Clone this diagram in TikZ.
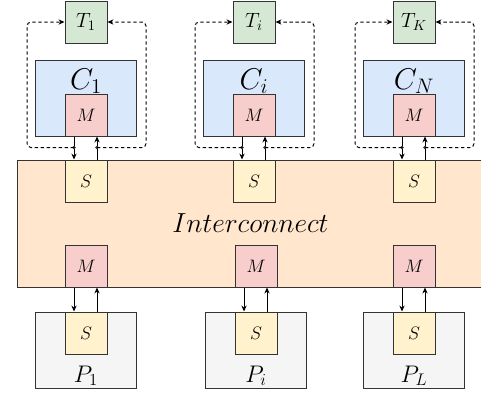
\documentclass[tikz,border=0pt]{standalone}
\usepackage{fix-cm}
\usetikzlibrary{arrows.meta}
\definecolor{taskFill}{HTML}{D5E8D4}
\definecolor{coreFill}{HTML}{DAE8FC}
\definecolor{masterFill}{HTML}{F8CECC}
\definecolor{slaveFill}{HTML}{FFF2CC}
\definecolor{busFill}{HTML}{FFE6CC}
\definecolor{perFill}{HTML}{F5F5F5}
\definecolor{edge}{HTML}{333333}
\newlength\portSize
\setlength\portSize{31.5pt}
\newlength\hostWidth
\setlength\hostWidth{75.75pt}
\newlength\hostHeight
\setlength\hostHeight{57pt}
\tikzset{
  unit/.style={draw=edge, line width=0.75pt, inner sep=0pt},
  taskbox/.style={unit, fill=taskFill, minimum size=\portSize, font=\fontsize{15.5}{18}\selectfont},
  masterbox/.style={unit, fill=masterFill, minimum size=\portSize, font=\fontsize{13.5}{16}\selectfont},
  slavebox/.style={unit, fill=slaveFill, minimum size=\portSize, font=\fontsize{13.5}{16}\selectfont},
  corebox/.style={unit, fill=coreFill, minimum width=\hostWidth, minimum height=\hostHeight},
  perbox/.style={unit, fill=perFill, minimum width=\hostWidth, minimum height=\hostHeight},
  busbox/.style={unit, fill=busFill, minimum width=350.25pt, minimum height=95.25pt, font=\fontsize{20.7}{24}\selectfont},
  hostlabel/.style={anchor=base, inner sep=0pt},
  wire/.style={line width=0.75pt, -{Stealth[length=4.5pt,width=4pt]}},
  probe/.style={line width=0.75pt, dash pattern=on 2.5pt off 2pt, rounded corners=3pt, -{Stealth[length=4.5pt,width=4pt]}},
}

\begin{document}
\begin{tikzpicture}[x=0.75pt,y=-0.75pt]
    \useasboundingbox (0,0) rectangle (481,394);

    \node[busbox] (ic) at (250.5,223.5) {$Interconnect$};

    \foreach \c/\x/\xb/\task/\core/\per in {1/86/86/T_1/C_1/P_1,2/254/256/T_i/C_i/P_i,3/414/414/T_K/C_N/P_L} {
      \node[taskbox] (t\c) at (\x,22) {$\task$};
      \node[corebox] (c\c) at (\x,98) {};
      \node[hostlabel, font=\fontsize{22.5}{26}\selectfont] (cl\c) at (\x,89) {$\core$};
      \node[masterbox, anchor=south] (cm\c) at (c\c.south) {$M$};

      \node[slavebox] (s\c) at (\x,181) {$S$};
      \node[masterbox] (m\c) at (\xb,266) {$M$};

      \node[perbox] (p\c) at (\xb,350) {};
      \node[slavebox] (ps\c) at (\xb,333) {$S$};
      \node[hostlabel, font=\fontsize{18}{21}\selectfont] (pl\c) at (\xb,382) {$\per$};

      \draw[wire] ([xshift=-9pt]cm\c.south) -- ([xshift=-9pt]s\c.north);
      \draw[wire] ([xshift=8.25pt]s\c.north) -- ([xshift=8.25pt]cm\c.south);
      \coordinate (dl\c) at ([xshift=-9pt,yshift=-8.25pt]cm\c.south);
      \coordinate (dr\c) at ([xshift=8.25pt,yshift=-8.25pt]cm\c.south);
      \fill[edge] (dl\c) circle (1.4pt) (dr\c) circle (1.4pt);
      \draw[probe] (dl\c) -- ++(-47,0) |- (t\c.west);
      \draw[probe] (dr\c) -- ++(49,0) |- (t\c.east);

      \draw[wire] ([xshift=-9pt]m\c.south) -- ([xshift=-9pt]ps\c.north);
      \draw[wire] ([xshift=8.25pt]ps\c.north) -- ([xshift=8.25pt]m\c.south);
    }
\end{tikzpicture}
\end{document}
